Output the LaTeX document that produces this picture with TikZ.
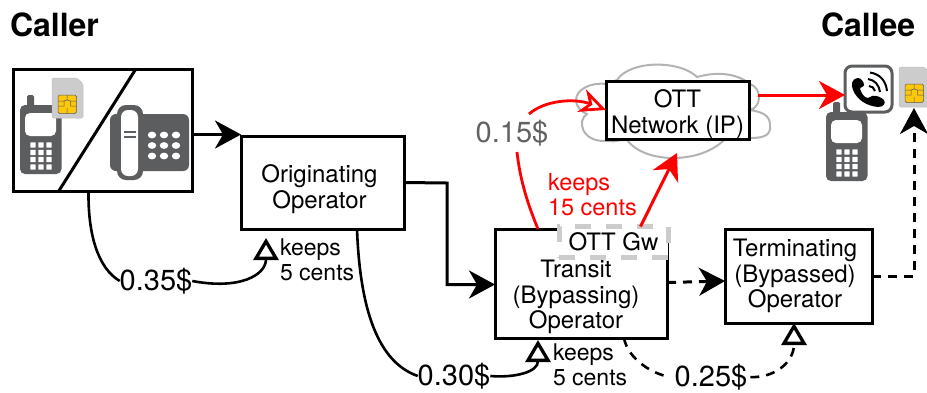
\documentclass[tikz,border=0pt]{standalone}
\usepackage{fontspec}
\setmainfont{TeX Gyre Heros}
\usetikzlibrary{arrows.meta}
\definecolor{icongray}{HTML}{5C5D5F}
\definecolor{simgray}{HTML}{CCCCCC}
\definecolor{chipyellow}{HTML}{FDC70C}
\definecolor{cloudgray}{HTML}{B3B3B3}
\tikzset{
  x=1pt,y=-1pt,
  opbox/.style={draw=black,line width=3pt,fill=white,minimum width=#1,inner sep=0pt,outer sep=0pt,align=center,font=\fontsize{24}{25}\selectfont},
  lbl/.style={inner sep=0pt,outer sep=0pt,align=center,font=\fontsize{24}{25.5}\selectfont},
  keepslbl/.style={inner sep=0pt,outer sep=0pt,align=left,anchor=west,font=\fontsize{23}{25}\selectfont},
  price/.style={inner sep=0pt,outer sep=0pt,font=\fontsize{29}{31}\selectfont},
  title/.style={inner sep=0pt,outer sep=0pt,anchor=base west,font=\fontsize{32}{34}\selectfont\bfseries},
  flow/.style={line width=3pt,-{Stealth[length=26pt,width=28pt,inset=8pt]}},
  redtip/.style={line width=3pt,draw=red,-{Stealth[length=26pt,width=28pt,inset=8pt,red]}},
  flowdash/.style={flow,dash pattern=on 9pt off 7pt},
  money/.style={line width=2.6pt},
  moneytip/.style={money,-{Triangle[open,length=22pt,width=25pt,fill=white,line width=3.3pt]}},
  pics/mobile/.style={code={
    \fill[icongray,rounded corners=1.5pt] (7,-10) rectangle (14,2);
    \fill[icongray,rounded corners=5pt] (0,0) rectangle (41.5,69);
    \fill[white,rounded corners=5pt] (5,8) rectangle (36,31);
    \foreach \kx in {13,21,29}\foreach \ky in {40,47.5,54.5,62}
      \fill[white,rounded corners=.6pt] (\kx-2.7,\ky-2.7) rectangle (\kx+2.7,\ky+2.7);
  }},
  pics/simcard/.style={code={
    \fill[simgray,draw=black!25,line width=.5pt,rounded corners=1.5pt] (0,0) -- (25,0) -- (31,6) -- (31,40) -- (0,40) -- cycle;
    \fill[chipyellow,draw=black!65,line width=.5pt,rounded corners=1.5pt] (6,17) rectangle (24.5,35.5);
    \draw[black!65,line width=.5pt] (6,23) -- (12,23) -- (12,28) -- (6,28) (24.5,23) -- (18.5,23) -- (18.5,28) -- (24.5,28)
      (15,17) -- (15,22) -- (12,23) (18.5,23) -- (15,22) (15,35.5) -- (15,30);
  }}
}
\begin{document}
\begin{tikzpicture}
\useasboundingbox (0,0) rectangle (927,392);
% titles
\node[title] (callerttl) at (10,36) {Caller};
\node[title] (calleettl) at (821,36) {Callee};
% cloud
\filldraw[draw=cloudgray,fill=white,line width=2pt] (606,84)
  .. controls (590,82) and (576,90) .. (576,100)
  .. controls (576,106) and (580,111) .. (587,114)
  .. controls (577,120) and (581,142) .. (606,141)
  .. controls (625,142) and (610,140) .. (627,140)
  .. controls (645,164) and (700,164) .. (724,140)
  .. controls (730,138) and (740,138) .. (750,138)
  .. controls (765,138) and (771,135) .. (770,125)
  .. controls (770,115) and (762,112) .. (750,110)
  .. controls (762,107) and (762,88) .. (750,84)
  .. controls (735,72) and (715,72) .. (697,77)
  .. controls (680,60) and (630,60) .. (617,80) -- cycle;
% operator boxes
\node[opbox=179pt,minimum height=122pt,anchor=north west] (caller) at (13.5,69.5) {};
\node[opbox=163pt,minimum height=93pt,anchor=north west] (orig) at (241,136) {};
\node[lbl] (origlbl) at (319.5,189) {Originating\\Operator};
\node[opbox=172pt,minimum height=109pt,anchor=north west] (transit) at (495,229) {};
\node[lbl] (transitlbl) at (576,297) {Transit\\(Bypassing)\\Operator};
\node[opbox=147pt,minimum height=94pt,anchor=north west] (term) at (725,229) {};
\node[lbl] (termlbl) at (795,276) {Terminating\\(Bypassed)\\Operator};
\node[opbox=143pt,minimum height=58pt,anchor=north west] (ott) at (606,81) {};
\node[lbl] (ottlbl) at (677.5,114) {OTT\\Network (IP)};
\node[draw=simgray,line width=5pt,dash pattern=on 16pt off 15pt,fill=white,minimum width=109pt,minimum height=31pt,inner sep=0pt,outer sep=0pt,font=\fontsize{24}{25}\selectfont,anchor=north west] (gw) at (559,226.5) {OTT Gw};
% caller icons
\draw[line width=3pt,line cap=round] ([xshift=45pt]caller.south west) -- ([xshift=122pt]caller.north west);
\pic at (20,105) {mobile};
\pic at (52,78) {simcard};
\fill[icongray,rounded corners=6pt] (110,114) rectangle (189,171);
\fill[icongray,rounded corners=9pt] (117,105) rectangle (143,180);
\fill[white,rounded corners=7pt] (121,110) rectangle (138,176);
\draw[icongray,line width=1.6pt] (124,132) -- (136,132) (124,137) -- (136,137);
\foreach \kx in {152,164,176}\foreach \ky in {135,145.5,156}
  \fill[white] (\kx,\ky) ellipse[x radius=4.2pt,y radius=3.4pt];
% callee icons
\pic at (826,112) {mobile};
\node[draw=icongray,line width=3pt,fill=white,rounded corners=7pt,minimum width=47pt,minimum height=46pt,inner sep=0pt,outer sep=0pt,anchor=north west] (callee) at (845,66) {};
\fill[black] (858,78) .. controls (851,79) and (851,85) .. (853,90)
  .. controls (857,100) and (867,106) .. (878,107)
  .. controls (884,107) and (886,103) .. (884,100)
  .. controls (881,97) and (876,95) .. (872,96)
  .. controls (868,98) and (867,99) .. (865,97)
  .. controls (862,94) and (861,92) .. (860,89)
  .. controls (860,87) and (864,87) .. (864,85)
  .. controls (864,82) and (861,78) .. (858,78) -- cycle;
\draw[line width=2pt] (868,79) .. controls (875,80) and (879,85) .. (880,92)
  (869,86) .. controls (872,86) and (874,88) .. (875,91)
  (870,72.5) .. controls (880,74) and (886,81) .. (887,91);
\pic at (899,67) {simcard};
\coordinate (calleesim) at (914,108);
% prices and labels
\node[price] (p35) at (156,281) {0.35\$};
\node[price] (p30) at (454,376) {0.30\$};
\node[price] (p25) at (711,377) {0.25\$};
\node[price,text=black!62] (p15) at (512,133) {0.15\$};
\node[keepslbl] (keep1) at (280,260) {keeps\\5 cents};
\node[keepslbl] (keep2) at (553,365) {keeps\\5 cents};
\node[keepslbl,text=red,font=\fontsize{23.5}{25}\selectfont] (keep3) at (548,195) {keeps\\15 cents};
% main flows
\draw[flow] ([yshift=-4pt]caller.east) -- ([yshift=-4pt]caller.east -| orig.west);
\draw[flow] (orig.east) -- (447,183) |- ([yshift=-1pt]transit.west);
\draw[flowdash] ([yshift=1pt]transit.east) -- ([yshift=-5pt]term.west);
\coordinate (termout) at (872,276);
\draw[flowdash] (termout) -| (calleesim);
% red flows
\coordinate (cloudout) at (758,95);
\draw[redtip] (cloudout) -- (callee.west |- cloudout);
\coordinate (cloudin) at (677,153);
\draw[redtip] ([xshift=27pt]gw.north) -- (cloudin);
\draw[line width=2.8pt,red] ([xshift=43pt]transit.north west) .. controls (528,205) and (520,180) .. (517,152);
\draw[line width=2.8pt,red,-{Stealth[open,length=26pt,width=24pt,inset=8pt,fill=white,line width=2.8pt]}] (529,114) .. controls (545,100) and (575,98) .. (ott.west);
% money flows
\coordinate (t1) at (266,238);
\coordinate (t2) at (538,340);
\draw[money] ([xshift=75pt]caller.south west) .. controls (88,235) and (98,268) .. (p35.west);
\draw[moneytip] (p35.east) .. controls (240,290) and (266,275) .. (t1);
\draw[money] ([xshift=116pt]orig.south west) .. controls (360,310) and (378,362) .. (p30.west);
\draw[moneytip] (p30.east) .. controls (515,378) and (538,372) .. (t2);
\draw[money,dash pattern=on 9pt off 7pt,shorten >=6pt] ([xshift=129pt]transit.south west) .. controls (628,360) and (655,375) .. (p25.west);
\draw[moneytip,dash pattern=on 9pt off 7pt,shorten <=3pt] (p25.east) .. controls (775,378) and (794,362) .. (term.south -| 794,0);
\end{tikzpicture}
\end{document}
